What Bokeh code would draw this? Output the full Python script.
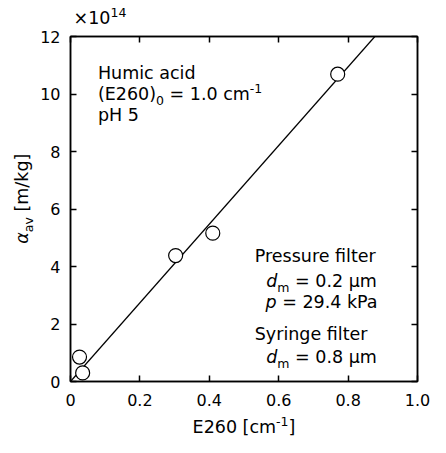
import math
from bokeh.plotting import figure
from bokeh.models import Range1d, LinearAxis, FixedTicker, Label, Slope
from bokeh.layouts import column, row
from bokeh.embed import file_html
from bokeh.resources import INLINE

# ---- data ----
e260 = [0.026, 0.035, 0.303, 0.410, 0.770]          # E260 [cm^-1]
alpha_av = [0.85, 0.30, 4.38, 5.16, 10.69]           # alpha_av [x10^14 m/kg]
fit_slope = 13.68
fit_intercept = 0.0
x_ticks = [0, 0.2, 0.4, 0.6, 0.8, 1.0]
x_tick_labels = ["0", "0.2", "0.4", "0.6", "0.8", "1.0"]
y_ticks = [0, 2, 4, 6, 8, 10, 12]
y_tick_labels = ["0", "2", "4", "6", "8", "10", "12"]

FONT = "DejaVu Sans"
MAIN = 17.5
SMALL = 12.5
BASE_FIX = 0.30     # Label draws 'alphabetic' text this many em too low

# ---- layout geometry (pixels) ----
TOTAL_W, TOTAL_H = 430, 437
TOP_H = 28          # strip holding the x10^14 multiplier
LEFT_W = 36         # strip holding the y-axis title
BOTTOM_H = 25       # strip holding the x-axis title
MAIN_W = TOTAL_W - LEFT_W
MAIN_H = TOTAL_H - TOP_H - BOTTOM_H
B_LEFT, B_RIGHT, B_TOP, B_BOTTOM = 34, 13, 8, 31
FRAME_W = MAIN_W - B_LEFT - B_RIGHT
FRAME_H = MAIN_H - B_TOP - B_BOTTOM

p = figure(width=MAIN_W, height=MAIN_H, output_backend="svg", toolbar_location=None,
           x_range=Range1d(0, 1), y_range=Range1d(0, 12),
           min_border_left=B_LEFT, min_border_right=B_RIGHT,
           min_border_top=B_TOP, min_border_bottom=B_BOTTOM)
p.background_fill_color = "white"
p.border_fill_color = "white"
p.outline_line_color = "black"
p.outline_line_width = 1.5
p.grid.visible = False


def style_axis(ax, ticks, labels=None, show_labels=True, standoff=10):
    ax.ticker = FixedTicker(ticks=ticks)
    ax.axis_line_color = "black"
    ax.axis_line_width = 1.5
    ax.major_tick_line_color = "black"
    ax.major_tick_line_width = 1.5
    ax.major_tick_in = 6
    ax.major_tick_out = 0
    ax.minor_tick_line_color = None
    ax.major_label_standoff = standoff
    if show_labels:
        ax.major_label_overrides = dict(zip(ticks, labels))
        ax.major_label_text_font = FONT
        ax.major_label_text_font_size = "16px"
        ax.major_label_text_color = "black"
    else:
        ax.major_label_text_font_size = "0px"
        ax.major_label_text_color = None


style_axis(p.xaxis[0], x_ticks, x_tick_labels, standoff=12)
style_axis(p.yaxis[0], y_ticks, y_tick_labels, standoff=10)
top_ax = LinearAxis()
style_axis(top_ax, x_ticks, show_labels=False, standoff=0)
p.add_layout(top_ax, "above")
right_ax = LinearAxis()
style_axis(right_ax, y_ticks, show_labels=False, standoff=0)
p.add_layout(right_ax, "right")

# fit line (under the markers)
p.add_layout(Slope(gradient=fit_slope, y_intercept=fit_intercept,
                   line_color="black", line_width=1.2, level="underlay"))

p.scatter(e260, alpha_av, marker="circle", size=14, fill_color="white",
          line_color="black", line_width=1.2)

# ---- text helpers (DejaVu Sans advance widths, per 1000 em) ----
W = {" ": 318, "(": 390, ")": 390, "-": 361, ".": 318, "/": 337, "=": 838, "\u00d7": 838,
     "[": 390, "]": 390, "E": 632, "H": 752, "P": 603, "S": 635, "a": 613, "c": 550,
     "d": 635, "e": 615, "f": 352, "g": 635, "i": 278, "k": 579, "l": 278, "m": 974,
     "n": 634, "p": 635, "r": 411, "s": 521, "t": 392, "u": 634, "v": 592, "y": 592,
     "\u03bc": 635, "\u03b1": 659}
for d in "0123456789":
    W[d] = 636


def tw(s, size):
    return sum(W.get(c, 600) for c in s) * size / 1000.0


def put(fig, x, y, parts, dx=0.0, dy=0.0, angle=0.0, center=False):
    total = sum(tw(t, s) for t, s, _, _ in parts)
    off = -total / 2.0 if center else 0.0
    for t, s, sh, style in parts:
        stripped = t.lstrip(" ")
        off += tw(t[:len(t) - len(stripped)], s)
        up = sh + BASE_FIX * s
        if angle:
            xo, yo = dx - up, dy + off
        else:
            xo, yo = dx + off, dy + up
        fig.add_layout(Label(x=x, y=y, x_offset=xo, y_offset=yo, text=stripped, angle=angle,
                             text_font=FONT, text_font_size=f"{s}px", text_font_style=style,
                             text_color="black", text_baseline="alphabetic", text_align="left"))
        off += tw(stripped, s)


def strip(w, h):
    f = figure(width=w, height=h, output_backend="svg", toolbar_location=None,
               x_range=Range1d(0, w), y_range=Range1d(h, 0),
               x_axis_location=None, y_axis_location=None, min_border=0)
    f.min_border_left = f.min_border_right = f.min_border_top = f.min_border_bottom = 0
    f.outline_line_color = None
    f.grid.visible = False
    f.background_fill_color = "white"
    f.border_fill_color = "white"
    return f


N = "normal"
I = "italic"

# multiplier above the y axis
top = strip(TOTAL_W, TOP_H)
put(top, LEFT_W + B_LEFT + 3, TOP_H - 5, [("\u00d710", MAIN, 0, N), ("14", SMALL, 7, N)])

# y-axis title (rotated), centred on the frame
left = strip(LEFT_W, MAIN_H)
put(left, LEFT_W - 9, B_TOP + FRAME_H / 2.0,
    [("\u03b1", MAIN, 0, I), ("av", SMALL, -5, N), (" [m/kg]", MAIN, 0, N)],
    angle=math.pi / 2, center=True)

# x-axis title, centred on the frame
bottom = strip(TOTAL_W, BOTTOM_H)
put(bottom, LEFT_W + B_LEFT + FRAME_W / 2.0, BOTTOM_H - 5,
    [("E260 [cm", MAIN, 0, N), ("-1", SMALL, 7, N), ("]", MAIN, 0, N)], center=True)

# annotations inside the frame
put(p, 0.079, 10.555, [("Humic acid", MAIN, 0, N)])
put(p, 0.079, 9.815, [("(E260)", MAIN, 0, N), ("0", SMALL, -5, N),
                      (" = 1.0 cm", MAIN, 0, N), ("-1", SMALL, 7, N)])
put(p, 0.079, 9.076, [("pH 5", MAIN, 0, N)])

put(p, 0.531, 4.185, [("Pressure filter", MAIN, 0, N)])
put(p, 0.564, 3.328, [("d", MAIN, 0, I), ("m", SMALL, -5, N), (" = 0.2 \u03bcm", MAIN, 0, N)])
put(p, 0.562, 2.588, [("p", MAIN, 0, I), (" = 29.4 kPa", MAIN, 0, N)])
put(p, 0.531, 1.479, [("Syringe filter", MAIN, 0, N)])
put(p, 0.564, 0.672, [("d", MAIN, 0, I), ("m", SMALL, -5, N), (" = 0.8 \u03bcm", MAIN, 0, N)])

layout = column(top, row(left, p, spacing=0), bottom, spacing=0)
open("out.html", "w").write(file_html(layout, INLINE))
